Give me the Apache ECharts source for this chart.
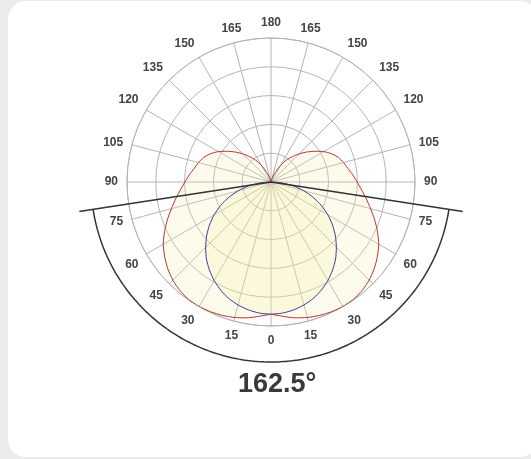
<!DOCTYPE html>
<html lang="en">
<head>
	<meta charset="UTF-8">
	<title>配光曲线</title>
	<style>
		html, body { margin: 0; padding: 0; background: #ebebeb; }
		/* 白色卡片 */
		#card { position: absolute; left: 8px; top: 1px; width: 530px; height: 456px; background: #fff; border-radius: 18px; }
		#main { position: absolute; left: 0; top: 0; width: 531px; height: 459px; }
	</style>
</head>
<body>
<div id="card"></div>
<div id="main"></div>

<script src="https://cdn.jsdelivr.net/npm/echarts@6/dist/echarts.min.js"></script>
<script>
    // gamma angles (0 = nadir, 180 = zenith)
    var gammaAngles = [0, 5, 10, 15, 20, 25, 30, 35, 40, 45, 50, 55, 60, 65, 70, 75, 80, 85, 90,
        95, 100, 105, 110, 115, 120, 125, 130, 135, 140, 145, 150, 155, 160, 165, 170, 175, 180];
    // C0-C180 plane (red)
    var c0Values = [459, 468, 479, 487, 493, 497, 499, 498, 492, 482, 468, 451, 432, 408, 383, 358, 336, 316, 299,
        285, 271, 261, 249, 232, 211, 186, 162, 138, 115, 92, 68, 40, 22, 10, 4, 1, 0];
    // C90-C270 plane (blue), 0..90 only
    var c90Values = [459, 457, 451, 442, 430, 414, 395, 373, 349, 321, 292, 261, 228, 193, 156, 118, 79, 39, 0];
    var beamAngle = 162.5;
    var angleLabelStep = 15;
    var ringStep = 100;
    var ringMax = 500;
    // beam marker: line end and arc radius (same units as rings)
    var beamLineLen = 674;
    var beamArcRadius = 625;

    function mirrorCurve(values) {
        var pts = [];
        for (var i = 0; i < values.length; i++) {
            pts.push([values[i], gammaAngles[i]]);
        }
        for (var j = values.length - 2; j >= 0; j--) {
            pts.push([values[j], 360 - gammaAngles[j]]);
        }
        return pts;
    }

    var half = beamAngle / 2;
    var beamLine = [[beamLineLen, half], [0, 0], [beamLineLen, 360 - half]];
    var beamArc = [];
    for (var a = half; a > -half; a -= 1) {
        beamArc.push([beamArcRadius, a < 0 ? 360 + a : a]);
    }
    beamArc.push([beamArcRadius, 360 - half]);

    var gridColor = '#b4b4b4';
    var polarCenter = [271, 182];
    var polarRadius = 144;
    var hidden = {show: false};
    var myChart = echarts.init(document.getElementById('main'));
    var option = {
        animation: false,
        title: {
            text: beamAngle + '°',
            left: 233,
            top: 366,
            textStyle: {fontSize: 27, fontWeight: 'bold', color: '#3a3a3a', fontFamily: 'Liberation Sans, Arial'}
        },
        polar: [
            {center: polarCenter, radius: polarRadius},
            // overlay with the same scale, larger extent, for the beam marker
            {center: polarCenter, radius: polarRadius * beamLineLen / ringMax}
        ],
        angleAxis: [{
            polarIndex: 0,
            type: 'value',
            min: 0,
            max: 360,
            interval: angleLabelStep,
            startAngle: 270,
            clockwise: true,
            axisLine: {lineStyle: {color: gridColor, width: 1}},
            axisTick: hidden,
            axisLabel: {
                margin: 9,
                color: '#444',
                fontSize: 12,
                fontWeight: 'bold',
                fontFamily: 'Liberation Sans, Arial',
                formatter: function (v) {
                    return v <= 180 ? v : 360 - v;
                }
            },
            splitLine: {lineStyle: {color: gridColor, width: 1}}
        }, {
            polarIndex: 1,
            type: 'value',
            min: 0,
            max: 360,
            startAngle: 270,
            clockwise: true,
            axisLine: hidden,
            axisTick: hidden,
            axisLabel: hidden,
            splitLine: hidden
        }],
        radiusAxis: [{
            polarIndex: 0,
            type: 'value',
            min: 0,
            max: ringMax,
            interval: ringStep,
            axisLine: hidden,
            axisTick: hidden,
            axisLabel: hidden,
            splitLine: {lineStyle: {color: gridColor, width: 1}}
        }, {
            polarIndex: 1,
            type: 'value',
            min: 0,
            max: beamLineLen,
            axisLine: hidden,
            axisTick: hidden,
            axisLabel: hidden,
            splitLine: hidden
        }],
        series: [
            {
                type: 'line',
                coordinateSystem: 'polar',
                polarIndex: 0,
                data: mirrorCurve(c0Values),
                smooth: 0.2,
                symbol: 'none',
                lineStyle: {color: '#b8312f', width: 1},
                areaStyle: {color: 'rgba(245,238,160,0.3)'},
                z: 3
            },
            {
                type: 'line',
                coordinateSystem: 'polar',
                polarIndex: 0,
                data: mirrorCurve(c90Values),
                smooth: 0.2,
                symbol: 'none',
                lineStyle: {color: '#3a3a9e', width: 1},
                areaStyle: {color: 'rgba(245,238,160,0.3)'},
                z: 3
            },
            {
                type: 'line',
                coordinateSystem: 'polar',
                polarIndex: 1,
                data: beamLine,
                clip: false,
                symbol: 'none',
                lineStyle: {color: '#333', width: 1.5},
                z: 4
            },
            {
                type: 'line',
                coordinateSystem: 'polar',
                polarIndex: 1,
                data: beamArc,
                clip: false,
                symbol: 'none',
                lineStyle: {color: '#333', width: 1.5},
                z: 4
            }
        ]
    };
    myChart.setOption(option);
</script>
</body>
</html>
